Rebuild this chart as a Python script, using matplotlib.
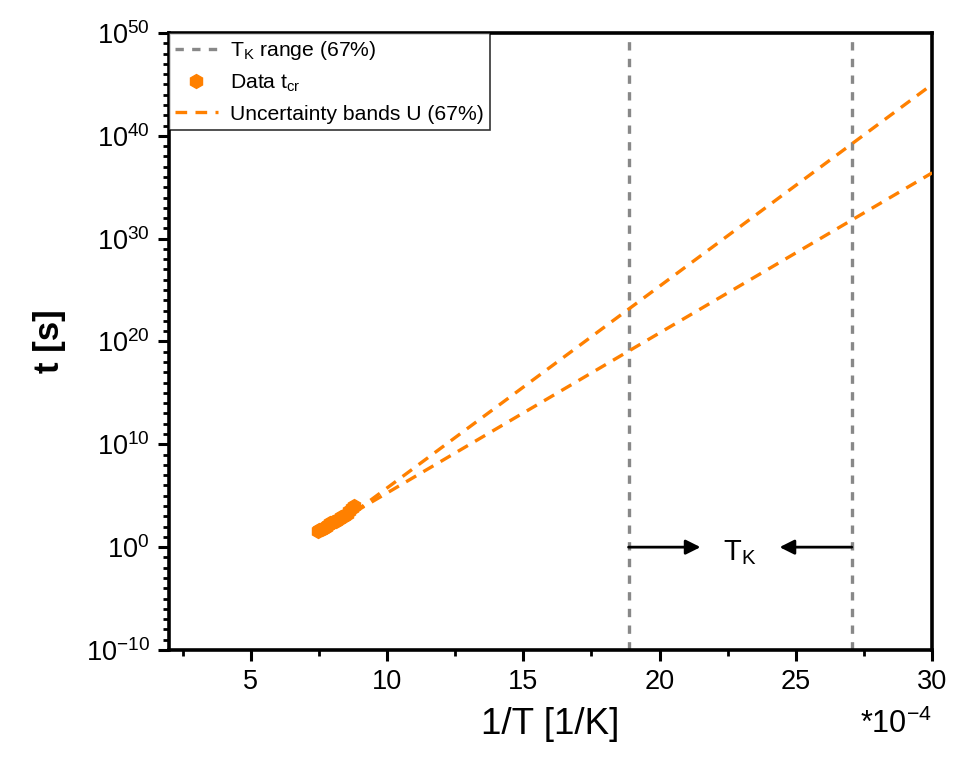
import matplotlib
matplotlib.use("Agg")
import matplotlib.pyplot as plt
from matplotlib.ticker import FixedLocator, FuncFormatter, NullFormatter
from matplotlib.lines import Line2D
import numpy as np

plt.rcParams['font.family'] = ['Liberation Sans', 'DejaVu Sans']
plt.rcParams['mathtext.fontset'] = 'custom'
plt.rcParams['mathtext.rm'] = 'Liberation Sans'
plt.rcParams['mathtext.it'] = 'Liberation Sans'
plt.rcParams['mathtext.bf'] = 'Liberation Sans:bold'

# ---- data (1/T in units of 1e-4 1/K, log10 of time in s) ----
data_invT = [7.45, 7.52, 7.60, 7.68, 7.76, 7.84, 7.92, 8.02, 8.12, 8.22,
             8.32, 8.42, 8.52, 8.62, 8.72, 8.78]
data_logt = [1.6, 1.65, 1.75, 1.85, 2.0, 2.15, 2.3, 2.4, 2.55, 2.75,
             2.9, 3.05, 3.25, 3.5, 3.8, 4.0]

band_invT = [8.8, 30.0]
band_upper_logt = [3.4, 45.0]
band_lower_logt = [3.4, 36.4]

tk_range = [18.86, 27.05]

x_major = [5, 10, 15, 20, 25, 30]
x_minor = [2.5, 7.5, 12.5, 17.5, 22.5, 27.5]
y_major_exp = list(range(-10, 51, 10))

orange = '#FF8000'
gray = '#888888'

fig = plt.figure(figsize=(9.63, 7.58), dpi=100)
ax = fig.add_axes([0.1755, 0.1425, 0.7925, 0.814])

for xv in tk_range:
    ax.axvline(xv, color=gray, lw=2.4, ls=(0, (2.5, 2.5)), zorder=2)

ax.plot(data_invT, 10.0 ** np.array(data_logt), ls='none', marker='h',
        ms=10, color=orange, mec=orange, zorder=4)
ax.plot(band_invT, 10.0 ** np.array(band_upper_logt), color=orange, lw=2.4,
        ls=(0, (3.5, 2.5)), zorder=3)
ax.plot(band_invT, 10.0 ** np.array(band_lower_logt), color=orange, lw=2.4,
        ls=(0, (3.5, 2.5)), zorder=3)

handles = [
    Line2D([], [], color=gray, lw=2.4, ls=(0, (2.5, 2.5))),
    Line2D([], [], color=orange, ls='none', marker='h', ms=10),
    Line2D([], [], color=orange, lw=2.4, ls=(0, (3.5, 2.5))),
]
labels = ['T$_\\mathregular{K}$ range (67%)', 'Data t$_\\mathregular{cr}$',
          'Uncertainty bands U (67%)']
leg = ax.legend(handles, labels, loc='upper left', fontsize=15.2,
                frameon=True, fancybox=False, borderaxespad=0.0,
                handlelength=2.0, handletextpad=0.6, borderpad=0.3,
                labelspacing=0.5, edgecolor='black')
leg.get_frame().set_linewidth(1.2)

arrow_y = 1.0
ax.annotate('', xy=(21.5, arrow_y), xytext=(tk_range[0], arrow_y),
            arrowprops=dict(arrowstyle='-|>', color='black', lw=2,
                            mutation_scale=22, shrinkA=0, shrinkB=0))
ax.annotate('', xy=(24.4, arrow_y), xytext=(tk_range[1], arrow_y),
            arrowprops=dict(arrowstyle='-|>', color='black', lw=2,
                            mutation_scale=22, shrinkA=0, shrinkB=0))
ax.text(22.95, 10 ** -0.5, 'T$_\\mathregular{K}$', fontsize=21, ha='center', va='center')

ax.set_yscale('log')
ax.set_xlim(2, 30)
ax.set_ylim(1e-10, 1e50)

ax.xaxis.set_major_locator(FixedLocator(x_major))
ax.xaxis.set_minor_locator(FixedLocator(x_minor))
ax.xaxis.set_major_formatter(FuncFormatter(lambda v, p: f'{v:g}'))
ax.xaxis.set_minor_formatter(NullFormatter())

ymaj = [10.0 ** e for e in y_major_exp]
ymin = [10.0 ** e for e in range(-10, 51) if e % 10 != 0]
ax.yaxis.set_major_locator(FixedLocator(ymaj))
ax.yaxis.set_minor_locator(FixedLocator(ymin))
ax.yaxis.set_major_formatter(FuncFormatter(
    lambda v, p: '10$^{\\mathregular{%d}}$' % int(round(np.log10(v)))))
ax.yaxis.set_minor_formatter(NullFormatter())

ax.tick_params(which='major', direction='out', length=8, width=2.2,
               labelsize=19.5, pad=6)
ax.tick_params(which='minor', direction='out', length=4.5, width=2.0)

for s in ax.spines.values():
    s.set_linewidth(2.6)

ax.set_xlabel('1/T [1/K]', fontsize=26.5, labelpad=8)
ax.set_ylabel('t [s]', fontsize=25, fontweight='bold', labelpad=14)

fig.text(0.968, 0.045, '*10$^{\\mathregular{-4}}$', fontsize=22, ha='right', va='center')

fig.savefig('out.png', dpi=100)
